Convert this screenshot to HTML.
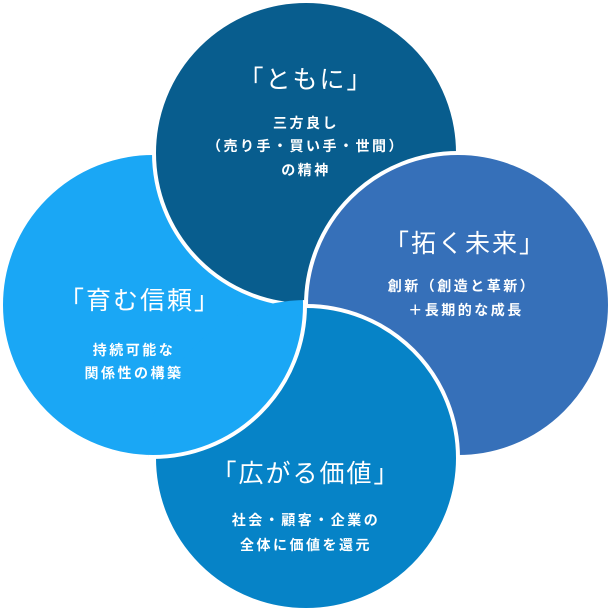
<!DOCTYPE html>
<html><head><meta charset="utf-8"><style>
html,body{margin:0;padding:0;background:#fff;}
svg{display:block;}
text{font-family:"Liberation Sans","Noto Sans CJK JP",sans-serif;fill:#fff;text-anchor:middle;}
.t{font-size:25px;letter-spacing:2px;}
.s{font-size:14px;font-weight:bold;letter-spacing:2.5px;}
</style></head><body>
<svg width="611" height="611" viewBox="0 0 611 611">
<defs><clipPath id="cb"><circle cx="306" cy="458" r="158"/></clipPath></defs>
<g stroke="#fff" stroke-width="4">
<circle cx="153" cy="305" r="152" fill="#1aa7f5"/>
<circle cx="306" cy="153" r="152" fill="#085d8e"/>
<circle cx="458" cy="305" r="152" fill="#3670b9"/>
<circle cx="306" cy="458" r="152" fill="#0683c7"/>
<circle cx="153" cy="305" r="152" fill="#1aa7f5" clip-path="url(#cb)"/>
</g>
<text class="t" x="306" y="88">「ともに」</text>
<text class="s" x="306" y="128">三方良し</text>
<text class="s" x="306" y="151">（売り手・買い手・世間）</text>
<text class="s" x="306" y="175">の精神</text>
<text class="t" x="465" y="252">「拓く未来」</text>
<text class="s" x="462" y="291">創新（創造と革新）</text>
<text class="s" x="466" y="315">＋長期的な成長</text>
<text class="t" x="140" y="309">「育む信頼」</text>
<text class="s" x="134" y="355">持続可能な</text>
<text class="s" x="134" y="378">関係性の構築</text>
<text class="t" x="306" y="482">「広がる価値」</text>
<text class="s" x="306" y="525">社会・顧客・企業の</text>
<text class="s" x="306" y="550">全体に価値を還元</text>
</svg>
</body></html>
